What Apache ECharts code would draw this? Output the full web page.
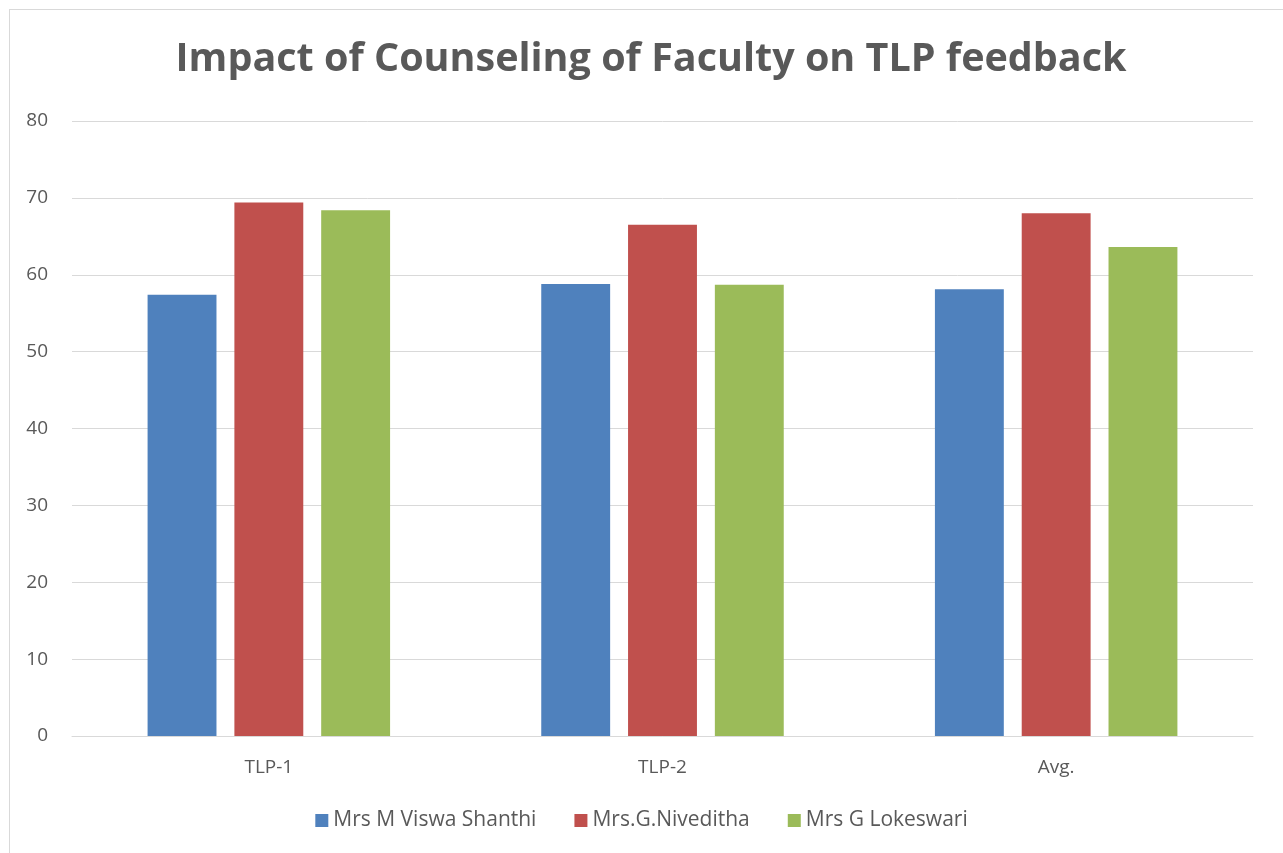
<!DOCTYPE html>
<html>
<head>
<meta charset="utf-8">
<script src="https://cdn.jsdelivr.net/npm/echarts@6/dist/echarts.min.js"></script>
<style>
    html, body { margin: 0; padding: 0; background: #fff; overflow: hidden; }
    #frame { position: absolute; left: 9px; top: 9px; width: 1290px; height: 860px; border: 1px solid #d9d9d9; }
    #main { position: absolute; left: 0; top: 0; width: 1283px; height: 853px; }
</style>
</head>
<body>
<div id="frame"></div>
<div id="main"></div>
<script>
var categories = ['TLP-1', 'TLP-2', 'Avg.'];
var seriesNames = ['Mrs M Viswa Shanthi', 'Mrs.G.Niveditha', 'Mrs G Lokeswari'];
var shanthi = [57.4, 58.8, 58.1];
var niveditha = [69.4, 66.5, 68.0];
var lokeswari = [68.4, 58.7, 63.6];
var colors = ['#4f81bd', '#c0504d', '#9bbb59'];

var myChart = echarts.init(document.getElementById('main'));
var font = '"Open Sans", "Liberation Sans", sans-serif';

function makeSeries(name, data, color) {
    return {
        name: name,
        type: 'bar',
        data: data,
        barWidth: '17.5%',
        barGap: '26%',
        itemStyle: { color: color },
        animation: false
    };
}

var option = {
    title: {
        text: 'Impact of Counseling of Faculty on TLP feedback',
        left: 'center',
        top: 35,
        left: 646,
        textAlign: 'center',
        textStyle: { fontFamily: font, fontSize: 39.5, fontWeight: 'bold', color: '#595959' }
    },
    color: colors,
    legend: {
        bottom: 17,
        left: 'center',
        itemWidth: 13,
        itemHeight: 13,
        itemGap: 38,
        icon: 'rect',
        textStyle: { fontFamily: font, fontSize: 21, color: '#595959' },
        data: seriesNames
    },
    grid: { left: 72, right: 30, top: 121, bottom: 117 },
    xAxis: {
        type: 'category',
        data: categories,
        axisTick: { show: false },
        axisLine: { lineStyle: { color: '#d9d9d9', width: 1 } },
        axisLabel: { fontFamily: font, fontSize: 19, color: '#595959', margin: 22 }
    },
    yAxis: {
        type: 'value',
        min: 0,
        max: 80,
        interval: 10,
        axisLine: { show: false },
        axisTick: { show: false },
        splitLine: { lineStyle: { color: '#d9d9d9', width: 1 } },
        axisLabel: { fontFamily: font, fontSize: 19, color: '#595959', margin: 24 }
    },
    series: [
        makeSeries(seriesNames[0], shanthi, colors[0]),
        makeSeries(seriesNames[1], niveditha, colors[1]),
        makeSeries(seriesNames[2], lokeswari, colors[2])
    ]
};

myChart.setOption(option);
</script>
</body>
</html>
